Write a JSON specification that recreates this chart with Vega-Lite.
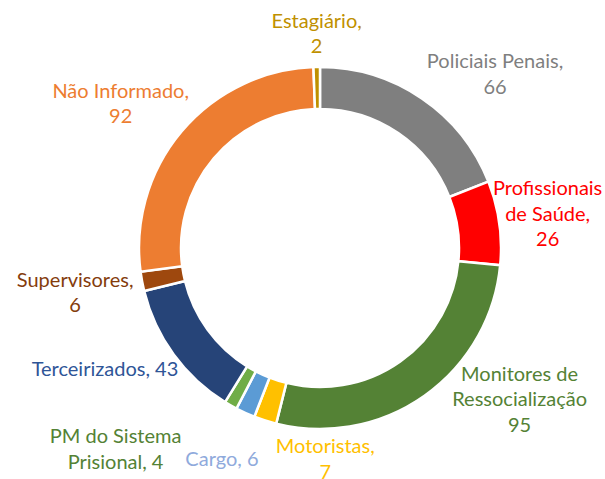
{
  "$schema": "https://vega.github.io/schema/vega-lite/v6.json",
  "width": 640,
  "height": 496,
  "autosize": {"type": "none"},
  "padding": 0,
  "background": "white",
  "view": {"stroke": null},
  "data": {
    "values": [
      {"order": 1, "cat": "Policiais Penais", "value": 66, "label": "Policiais Penais,\n66"},
      {"order": 2, "cat": "Profissionais de Saúde", "value": 26, "label": "Profissionais\nde Saúde,\n26"},
      {"order": 3, "cat": "Monitores de Ressocialização", "value": 95, "label": "Monitores de\nRessocialização\n95"},
      {"order": 4, "cat": "Motoristas", "value": 7, "label": "Motoristas,\n7"},
      {"order": 5, "cat": "Cargo", "value": 6, "label": "Cargo, 6"},
      {"order": 6, "cat": "PM do Sistema Prisional", "value": 4, "label": "PM do Sistema\nPrisional, 4"},
      {"order": 7, "cat": "Terceirizados", "value": 43, "label": "Terceirizados, 43"},
      {"order": 8, "cat": "Supervisores", "value": 6, "label": "Supervisores,\n6"},
      {"order": 9, "cat": "Não Informado", "value": 92, "label": "Não Informado,\n92"},
      {"order": 10, "cat": "Estagiário", "value": 2, "label": "Estagiário,\n2"}
    ]
  },
  "encoding": {
    "theta": {"field": "value", "type": "quantitative", "stack": true},
    "order": {"field": "order", "type": "quantitative"}
  },
  "layer": [
    {
      "mark": {"type": "arc", "innerRadius": 139, "outerRadius": 181, "stroke": "white", "strokeWidth": 2.5},
      "encoding": {
        "color": {
          "field": "cat", "type": "nominal", "legend": null,
          "scale": {
            "domain": ["Policiais Penais", "Profissionais de Saúde", "Monitores de Ressocialização", "Motoristas", "Cargo", "PM do Sistema Prisional", "Terceirizados", "Supervisores", "Não Informado", "Estagiário"],
            "range": ["#7F7F7F", "#FF0000", "#548235", "#FFC000", "#5B9BD5", "#70AD47", "#264478", "#9E480E", "#ED7D31", "#BF9000"]
          }
        }
      }
    },
    {
      "mark": {"type": "text", "radius": 240, "dx": 40, "dy": 12.5, "color": "#7F7F7F", "font": "Lato", "fontSize": 20, "lineBreak": "\n", "lineHeight": 25.5, "align": "center", "baseline": "middle"},
      "encoding": {"text": {"condition": {"test": "datum.cat === 'Policiais Penais'", "field": "label"}, "value": ""}}
    },
    {
      "mark": {"type": "text", "radius": 240, "dx": -10, "dy": -25, "color": "#FF0000", "font": "Lato", "fontSize": 20, "lineBreak": "\n", "lineHeight": 25.5, "align": "center", "baseline": "middle"},
      "encoding": {"text": {"condition": {"test": "datum.cat === 'Profissionais de Saúde'", "field": "label"}, "value": ""}}
    },
    {
      "mark": {"type": "text", "radius": 240, "dx": 61, "dy": -69, "color": "#548235", "font": "Lato", "fontSize": 20, "lineBreak": "\n", "lineHeight": 25.5, "align": "center", "baseline": "middle"},
      "encoding": {"text": {"condition": {"test": "datum.cat === 'Monitores de Ressocialização'", "field": "label"}, "value": ""}}
    },
    {
      "mark": {"type": "text", "radius": 240, "dx": 78, "dy": -29.5, "color": "#FFC000", "font": "Lato", "fontSize": 20, "lineBreak": "\n", "lineHeight": 25.5, "align": "center", "baseline": "middle"},
      "encoding": {"text": {"condition": {"test": "datum.cat === 'Motoristas'", "field": "label"}, "value": ""}}
    },
    {
      "mark": {"type": "text", "radius": 240, "dx": 1, "dy": -7, "color": "#8FAADC", "font": "Lato", "fontSize": 20, "lineBreak": "\n", "lineHeight": 25.5, "align": "center", "baseline": "middle"},
      "encoding": {"text": {"condition": {"test": "datum.cat === 'Cargo'", "field": "label"}, "value": ""}}
    },
    {
      "mark": {"type": "text", "radius": 240, "dx": -86, "dy": -19.5, "color": "#548235", "font": "Lato", "fontSize": 20, "lineBreak": "\n", "lineHeight": 25.5, "align": "center", "baseline": "middle"},
      "encoding": {"text": {"condition": {"test": "datum.cat === 'PM do Sistema Prisional'", "field": "label"}, "value": ""}}
    },
    {
      "mark": {"type": "text", "radius": 240, "dx": -21, "dy": -19, "color": "#2F5597", "font": "Lato", "fontSize": 20, "lineBreak": "\n", "lineHeight": 25.5, "align": "center", "baseline": "middle"},
      "encoding": {"text": {"condition": {"test": "datum.cat === 'Terceirizados'", "field": "label"}, "value": ""}}
    },
    {
      "mark": {"type": "text", "radius": 240, "dx": -9, "dy": -11.5, "color": "#843C0C", "font": "Lato", "fontSize": 20, "lineBreak": "\n", "lineHeight": 25.5, "align": "center", "baseline": "middle"},
      "encoding": {"text": {"condition": {"test": "datum.cat === 'Supervisores'", "field": "label"}, "value": ""}}
    },
    {
      "mark": {"type": "text", "radius": 240, "dx": -16, "dy": -1.5, "color": "#ED7D31", "font": "Lato", "fontSize": 20, "lineBreak": "\n", "lineHeight": 25.5, "align": "center", "baseline": "middle"},
      "encoding": {"text": {"condition": {"test": "datum.cat === 'Não Informado'", "field": "label"}, "value": ""}}
    },
    {
      "mark": {"type": "text", "radius": 240, "dx": 1, "dy": 13.5, "color": "#BF9000", "font": "Lato", "fontSize": 20, "lineBreak": "\n", "lineHeight": 25.5, "align": "center", "baseline": "middle"},
      "encoding": {"text": {"condition": {"test": "datum.cat === 'Estagiário'", "field": "label"}, "value": ""}}
    }
  ]
}
